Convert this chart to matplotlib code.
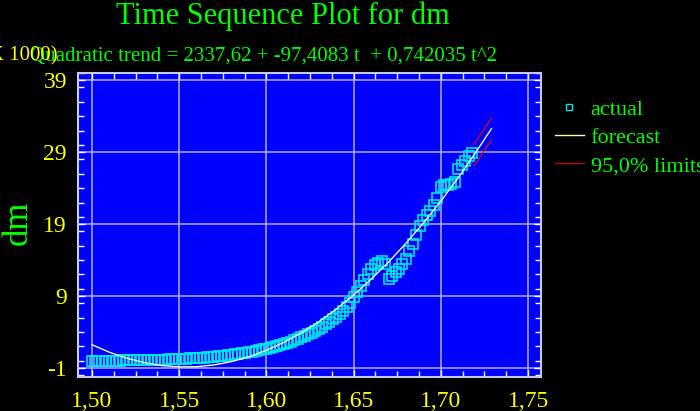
import matplotlib
matplotlib.use("Agg")
import matplotlib.pyplot as plt
import matplotlib.ticker as mticker
from matplotlib.lines import Line2D

plt.rcParams["axes.unicode_minus"] = False

# actual series (y in thousands)
actual_x = [
    1.500, 1.502, 1.504, 1.506, 1.508, 1.510, 1.512, 1.514, 1.516, 1.518,
    1.520, 1.522, 1.524, 1.526, 1.528, 1.530, 1.532, 1.534, 1.536, 1.538,
    1.540, 1.542, 1.544, 1.546, 1.548, 1.550, 1.552, 1.554, 1.556, 1.558,
    1.560, 1.562, 1.564, 1.566, 1.568, 1.570, 1.572, 1.574, 1.576, 1.578,
    1.580, 1.582, 1.584, 1.586, 1.588, 1.590, 1.592, 1.594, 1.596, 1.598,
    1.600, 1.602, 1.604, 1.606, 1.608, 1.610, 1.612, 1.614, 1.616, 1.618,
    1.620, 1.622, 1.624, 1.626, 1.628, 1.630, 1.632, 1.634, 1.636, 1.638,
    1.640, 1.642, 1.644, 1.646, 1.648, 1.650, 1.652, 1.654, 1.656, 1.658,
    1.660, 1.662, 1.664, 1.666, 1.668, 1.670, 1.672, 1.674, 1.676, 1.678,
    1.680, 1.682, 1.684, 1.686, 1.688, 1.690, 1.692, 1.694, 1.696, 1.698,
    1.700, 1.702, 1.704, 1.706, 1.708, 1.710, 1.712, 1.714, 1.716, 1.718,
]
actual_y = [
    0.00, 0.00, 0.01, 0.01, 0.02, 0.02, 0.03, 0.03, 0.04, 0.05,
    0.05, 0.06, 0.07, 0.08, 0.09, 0.10, 0.11, 0.12, 0.13, 0.15,
    0.16, 0.18, 0.20, 0.22, 0.24, 0.26, 0.29, 0.31, 0.34, 0.37,
    0.40, 0.43, 0.46, 0.50, 0.54, 0.58, 0.62, 0.67, 0.72, 0.78,
    0.84, 0.90, 0.97, 1.04, 1.11, 1.19, 1.28, 1.37, 1.47, 1.58,
    1.70, 1.82, 1.95, 2.08, 2.22, 2.36, 2.52, 2.68, 2.86, 3.05,
    3.25, 3.46, 3.68, 3.92, 4.18, 4.45, 4.75, 5.05, 5.40, 5.75,
    6.10, 6.50, 6.95, 7.50, 8.10, 8.80, 9.60, 10.4, 11.2, 12.0,
    12.8, 13.3, 13.6, 13.9, 13.4, 11.4, 11.8, 12.3, 12.8, 13.4,
    14.2, 15.2, 16.3, 17.5, 18.8, 19.6, 20.2, 20.8, 21.6, 22.6,
    24.2, 24.4, 24.5, 24.6, 24.9, 26.6, 27.2, 27.8, 28.4, 28.9,
]

# quadratic trend forecast line
fc_x = [1.50, 1.51, 1.52, 1.53, 1.54, 1.55, 1.56, 1.57, 1.58, 1.59, 1.60, 1.61,
        1.62, 1.63, 1.64, 1.65, 1.66, 1.67, 1.68, 1.69, 1.70, 1.71, 1.72, 1.729]
fc_y = [2.24, 1.19, 0.36, -0.26, -0.66, -0.84, -0.82, -0.57, -0.11, 0.56, 1.46, 2.56,
        3.89, 5.42, 7.18, 9.14, 11.33, 13.72, 16.34, 19.16, 22.2, 25.47, 28.96, 32.26]

# 95% limits
lim_x = [1.719, 1.724, 1.729]
lim_upper = [30.1, 31.9, 33.8]
lim_lower = [27.1, 28.9, 30.7]

xticks = [1.50, 1.55, 1.60, 1.65, 1.70, 1.75]
xtick_labels = ["1,50", "1,55", "1,60", "1,65", "1,70", "1,75"]
yticks = [-1, 9, 19, 29, 39]

BG = "black"
PLOT_BG = "#0000ff"
GREEN = "#00ff00"
YELLOW = "#ffff00"
CYAN = "#00e5f0"
GRID = "#b0b0e4"
SERIF = "Liberation Serif"

fig = plt.figure(figsize=(7, 4.11), dpi=100, facecolor=BG)
ax = fig.add_axes([78 / 700, 1 - 377 / 411, 463 / 700, 304 / 411])
ax.set_facecolor(PLOT_BG)

ax.plot(actual_x, actual_y, ls="none", marker="s", ms=6.5, mfc="none",
        mec=CYAN, mew=1.2, zorder=3)
ax.plot(fc_x, fc_y, color="#f4f4c8", lw=1.0, zorder=4)
ax.plot(lim_x, lim_upper, color="#d01010", lw=0.9, zorder=4)
ax.plot(lim_x, lim_lower, color="#d01010", lw=0.9, zorder=4)

ax.set_xlim(1.492, 1.7574)
ax.set_ylim(-2.25, 40.0)
ax.set_xticks(xticks)
ax.set_xticklabels(xtick_labels)
ax.set_yticks(yticks)
ax.xaxis.set_minor_locator(mticker.MultipleLocator(0.0125))
ax.yaxis.set_minor_locator(mticker.MultipleLocator(2))
ax.grid(True, which="major", color=GRID, lw=1.1)
ax.set_axisbelow(True)

ax.tick_params(which="both", direction="in", colors="white",
               top=True, right=True, width=1)
ax.tick_params(which="major", length=5)
ax.tick_params(which="minor", length=4)
ax.tick_params(axis="x", which="major", pad=10, labelcolor=YELLOW, labelsize=17)
ax.tick_params(axis="y", which="major", pad=8, labelcolor=YELLOW, labelsize=17)
for lab in ax.get_xticklabels() + ax.get_yticklabels():
    lab.set_family(SERIF)
for sp in ax.spines.values():
    sp.set_color("#c8c8f0")
    sp.set_linewidth(1.5)

fig.text(283 / 700, 1 - 16 / 411, "Time Sequence Plot for dm", color=GREEN,
         family=SERIF, fontsize=22, ha="center", va="center")
fig.text(263 / 700, 1 - 56 / 411,
         "Quadratic trend = 2337,62 + -97,4083 t  + 0,742035 t^2",
         color=GREEN, family=SERIF, fontsize=15, ha="center", va="center")
fig.text(58 / 700, 1 - 56 / 411, "(X 1000)", color=YELLOW, family=SERIF,
         fontsize=15, ha="right", va="center")
fig.text(18 / 700, 1 - 223 / 411, "dm", color=GREEN, family=SERIF,
         fontsize=25, rotation=90, ha="center", va="center")

handles = [
    Line2D([], [], ls="none", marker="s", ms=5, mfc="none", mec=CYAN, mew=1),
    Line2D([], [], color="#ffffa0", lw=1),
    Line2D([], [], color="#b01010", lw=1),
]
leg = fig.legend(handles, ["actual", "forecast", "95,0% limits"],
                 loc="upper left", bbox_to_anchor=(555 / 700, 1 - 99 / 411),
                 frameon=False, borderpad=0, borderaxespad=0,
                 handlelength=1.3, handletextpad=0.3, labelspacing=0.35,
                 prop={"family": SERIF, "size": 16})
for t in leg.get_texts():
    t.set_color(GREEN)

fig.savefig("out.png", dpi=100, facecolor=BG)
